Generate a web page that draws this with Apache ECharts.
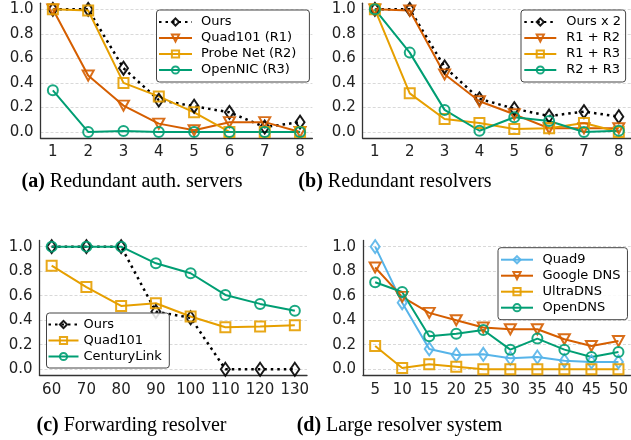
<!DOCTYPE html>
<html><head><meta charset="utf-8">
<script src="https://cdn.jsdelivr.net/npm/echarts@6/dist/echarts.min.js"></script>
<style>html,body{margin:0;padding:0;background:#fff}#c{width:631px;height:440px}</style>
</head><body><div id="c"></div>
<script>
// ---- data ----
const xA = [1,2,3,4,5,6,7,8];
const xB = [1,2,3,4,5,6,7,8];
const xC = [60,70,80,90,100,110,120,130];
const xD = [5,10,15,20,25,30,35,40,45,50];
const yTicks = [0,0.2,0.4,0.6,0.8,1.0];

const aOurs   = [1.0,1.0,0.52,0.26,0.21,0.16,0.04,0.08];
const aQuad101= [1.0,0.46,0.215,0.068,0.014,0.08,0.08,0.0];
const aProbe  = [1.0,0.99,0.40,0.29,0.16,0.0,0.0,0.0];
const aOpenNIC= [0.34,0.0,0.008,0.0,0.0,0.0,0.0,0.0];

const bOurs2  = [1.0,1.0,0.53,0.27,0.19,0.13,0.166,0.125];
const bR1R2   = [1.0,0.99,0.47,0.25,0.144,0.03,0.03,0.03];
const bR1R3   = [1.0,0.315,0.106,0.073,0.024,0.03,0.073,0.0];
const bR2R3   = [1.0,0.647,0.18,0.01,0.12,0.09,0.0,0.01];

const cOurs   = [1.0,1.0,1.0,0.47,0.42,0.0,0.0,0.0];
const cQuad101= [0.845,0.67,0.516,0.538,0.43,0.342,0.348,0.359];
const cCentury= [1.0,1.0,1.0,0.864,0.783,0.606,0.533,0.478];

const dQuad9  = [1.0,0.543,0.166,0.117,0.122,0.09,0.10,0.07,0.06,0.06];
const dGoogle = [0.83,0.59,0.46,0.40,0.34,0.326,0.326,0.245,0.19,0.23];
const dUltra  = [0.19,0.01,0.04,0.02,0.0,0.0,0.0,0.0,0.0,0.0];
const dOpenDNS= [0.71,0.63,0.27,0.29,0.32,0.16,0.25,0.16,0.10,0.14];

const captions = [
  ['(a)',' Redundant auth. servers'],
  ['(b)',' Redundant resolvers'],
  ['(c)',' Forwarding resolver'],
  ['(d)',' Large resolver system']
];

// ---- styles ----
const ST = {
  ours:  {color:'#000000', symbol:'diamond', size:[9,13], rot:0, dash:[2.5,4], lw:2.5},
  red:   {color:'#D55E00', symbol:'triangle', size:[11,10], rot:180, dash:'solid', lw:2},
  yel:   {color:'#E69F00', symbol:'rect', size:10, rot:0, dash:'solid', lw:2},
  grn:   {color:'#009E73', symbol:'circle', size:10, rot:0, dash:'solid', lw:2},
  blu:   {color:'#56B4E9', symbol:'diamond', size:[9,13], rot:0, dash:'solid', lw:2}
};
function ser(name, xs, ys, st, gi){
  return {
    type:'line', name:name, xAxisIndex:gi, yAxisIndex:gi,
    data: xs.map((x,i)=>[x, ys[i]]),
    symbol: st.symbol, symbolSize: st.size, symbolRotate: st.rot,
    showSymbol:true, clip:false, animation:false,
    lineStyle:{color:st.color, width:st.lw, type:st.dash, cap:'butt'},
    itemStyle:{color:'rgba(255,255,255,0)', borderColor:st.color, borderWidth:2, opacity:0.9},
    emphasis:{disabled:true}
  };
}
const FONT = "'DejaVu Sans', sans-serif";
function xaxis(gi, min, max, ticks){
  return {gridIndex:gi, type:'value', min:min, max:max,
    axisLine:{show:true, onZero:false, lineStyle:{color:'#333', width:1.3}},
    axisTick:{show:false, customValues:ticks},
    axisLabel:{customValues:ticks, fontSize:15, color:'#222', margin:7, fontFamily:FONT},
    splitLine:{show:false}};
}
function yaxis(gi){
  return {gridIndex:gi, type:'value', min:-0.05, max:1.05,
    axisLine:{show:true, onZero:false, lineStyle:{color:'#333', width:1.3}},
    axisTick:{show:false, customValues:yTicks},
    axisLabel:{customValues:yTicks, fontSize:15, color:'#222', margin:7, fontFamily:FONT,
      formatter:(v)=>v.toFixed(1)},
    splitLine:{show:true, lineStyle:{color:'#cfcfcf', width:0.8, type:[3,2]}}};
}
function legend(names, left, top, pad, iw, tpl){
  return {show:true, orient:'vertical', left:left, top:top, data:names,
    padding:pad, itemWidth:iw, itemHeight:9, itemGap:3,
    backgroundColor:'rgba(255,255,255,0.85)', borderColor:'#444', borderWidth:1, borderRadius:3,
    textStyle:{fontSize:13, color:'#000', fontFamily:FONT, padding:[0,0,0,tpl]},
    selectedMode:false, z:10};
}
const grids = [
  {left:40.5, top:3.2, width:271.9, height:134.9},
  {left:362.7, top:3.2, width:271.3, height:134.9},
  {left:39.5, top:240.5, width:267.5, height:134.9},
  {left:363, top:240.5, width:271, height:134.9}
];
const capPos = [[132,181.5],[395,181.5],[131.5,425.5],[399.5,425.5]];
const CAPFONT = "'Liberation Serif', serif";

const option = {
  animation:false,
  grid: grids,
  xAxis: [xaxis(0,0.65,8.35,xA), xaxis(1,0.65,8.35,xB), xaxis(2,56.5,133.5,xC), xaxis(3,2.75,52.25,xD)],
  yAxis: [yaxis(0), yaxis(1), yaxis(2), yaxis(3)],
  legend: [
    legend(['Ours','Quad101 (R1)','Probe Net (R2)','OpenNIC (R3)'], 156.5, 10, [5.5,13,5.5,1.5], 33, 4),
    legend(['Ours x 2','R1 + R2','R1 + R3','R2 + R3'], 521, 10, [5.5,4.5,5.5,2.3], 32, 5),
    legend(['Ours ','Quad101','CenturyLink'], 46.5, 313, [5,7.5,5,1], 30, 0),
    legend(['Quad9','Google DNS','UltraDNS','OpenDNS'], 498, 247.7, [5.5,7,5.5,2], 32, 4.5)
  ],
  series: [
    ser('Ours', xA, aOurs, ST.ours, 0),
    ser('Quad101 (R1)', xA, aQuad101, ST.red, 0),
    ser('Probe Net (R2)', xA, aProbe, ST.yel, 0),
    ser('OpenNIC (R3)', xA, aOpenNIC, ST.grn, 0),
    ser('Ours x 2', xB, bOurs2, ST.ours, 1),
    ser('R1 + R2', xB, bR1R2, ST.red, 1),
    ser('R1 + R3', xB, bR1R3, ST.yel, 1),
    ser('R2 + R3', xB, bR2R3, ST.grn, 1),
    ser('Ours ', xC, cOurs, ST.ours, 2),
    ser('Quad101', xC, cQuad101, ST.yel, 2),
    ser('CenturyLink', xC, cCentury, ST.grn, 2),
    ser('Quad9', xD, dQuad9, ST.blu, 3),
    ser('Google DNS', xD, dGoogle, ST.red, 3),
    ser('UltraDNS', xD, dUltra, ST.yel, 3),
    ser('OpenDNS', xD, dOpenDNS, ST.grn, 3)
  ],
  graphic: captions.map((c,i)=>({
    type:'text', x:capPos[i][0], y:capPos[i][1], z:20,
    style:{text:'{b|'+c[0]+'}{n|'+c[1]+'}', align:'center', verticalAlign:'middle',
      fontFamily:CAPFONT, fontSize:20, fill:'#000',
      rich:{b:{fontWeight:'bold', fontFamily:CAPFONT, fontSize:20, fill:'#000'},
            n:{fontFamily:CAPFONT, fontSize:20, fill:'#000'}}}
  }))
};
const chart = echarts.init(document.getElementById('c'), null, {renderer:'canvas'});
chart.setOption(option);
</script></body></html>
